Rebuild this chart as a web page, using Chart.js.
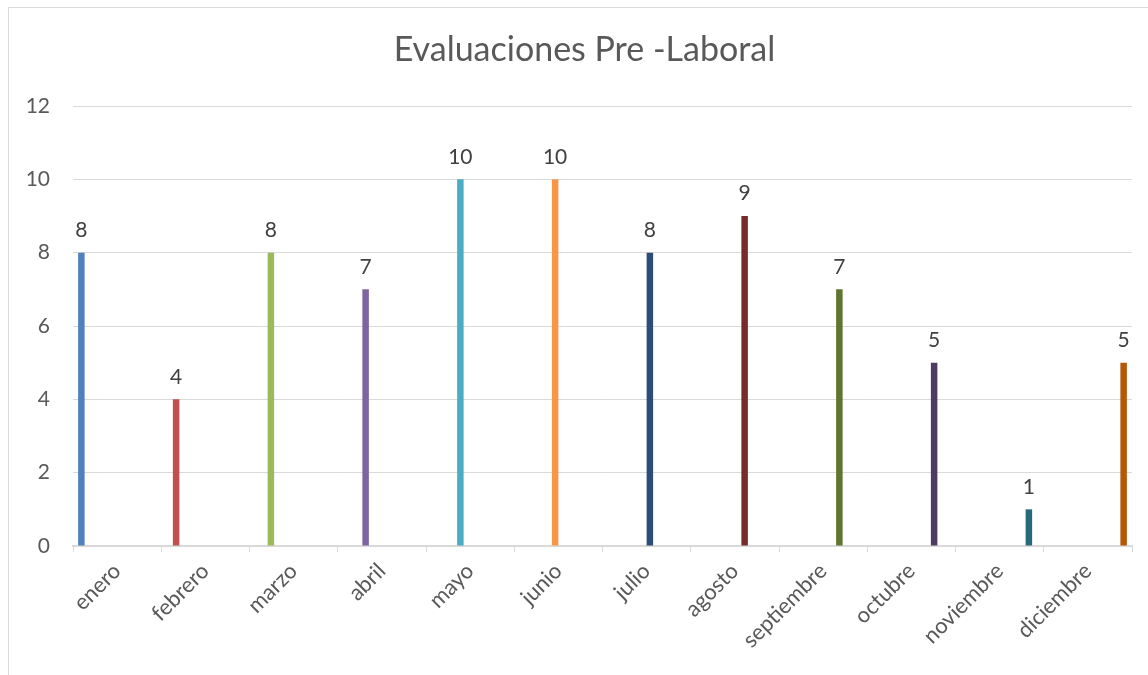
<!DOCTYPE html>
<html>
<head>
<meta charset="utf-8">
<script src="https://cdn.jsdelivr.net/npm/chart.js@4"></script>
<style>
  body { margin: 0; background: #fff; }
  #wrap { position: relative; width: 1148px; height: 675px; overflow: hidden; }
  #frame { position: absolute; left: 8px; top: 7px; width: 1200px; height: 700px; border: 1px solid #D9D9D9; }
  canvas { position: absolute; left: 0; top: 0; }
</style>
</head>
<body>
<div id="wrap">
  <div id="frame"></div>
  <canvas id="myChart" width="1148" height="675"></canvas>
</div>
<script>
// Data
var months = ["enero", "febrero", "marzo", "abril", "mayo", "junio", "julio", "agosto", "septiembre", "octubre", "noviembre", "diciembre"];
var values = [8, 4, 8, 7, 10, 10, 8, 9, 7, 5, 1, 5];
var colors = ["#4F81BD", "#C0504D", "#9BBB59", "#8064A2", "#4BACC6", "#F79646",
              "#2C4D75", "#772C2A", "#5F7530", "#4D3B62", "#276A7C", "#B65708"];
var yTicks = [0, 2, 4, 6, 8, 10, 12];
var titleText = "Evaluaciones Pre -Laboral";

var fontFamily = "Lato, 'Open Sans', sans-serif";

// one series per month, each only filled in its own month (Excel-style clustered bars)
var datasets = months.map(function (m, i) {
  return {
    label: m,
    data: months.map(function (_, j) { return j === i ? values[i] : null; }),
    backgroundColor: colors[i],
    borderWidth: 0,
    categoryPercentage: 0.884,
    barPercentage: 1.0
  };
});

// value labels above each bar
var valueLabels = {
  id: "valueLabels",
  afterDatasetsDraw: function (chart) {
    var ctx = chart.ctx;
    ctx.save();
    ctx.font = "21px " + fontFamily;
    ctx.fillStyle = "#404040";
    ctx.textAlign = "center";
    ctx.textBaseline = "bottom";
    chart.data.datasets.forEach(function (ds, i) {
      var meta = chart.getDatasetMeta(i);
      meta.data.forEach(function (bar, j) {
        if (ds.data[j] === null) return;
        ctx.fillText(ds.data[j], bar.x, bar.y - 12);
      });
    });
    ctx.restore();
  }
};

// title centred on the whole chart frame (Excel style), not the plot area
var chartTitle = {
  id: "chartTitle",
  afterDraw: function (chart) {
    var ctx = chart.ctx;
    ctx.save();
    ctx.font = "34px " + fontFamily;
    ctx.fillStyle = "#595959";
    ctx.textAlign = "center";
    ctx.textBaseline = "middle";
    ctx.fillText(titleText, (chart.width + 21) / 2, 50);
    ctx.restore();
  }
};

var ctx = document.getElementById("myChart").getContext("2d");
var myChart = new Chart(ctx, {
  type: "bar",
  data: { labels: months, datasets: datasets },
  plugins: [valueLabels, chartTitle],
  options: {
    responsive: false,
    animation: false,
    layout: { padding: { left: 0, right: 16, top: 106, bottom: 0 } },
    plugins: {
      legend: { display: false },
      tooltip: { enabled: false },
      title: { display: false }
    },
    scales: {
      x: {
        grid: { display: true, drawOnChartArea: false, drawTicks: true, tickLength: 6, color: "#D9D9D9", lineWidth: 1 },
        border: { display: true, color: "#D9D9D9", width: 2 },
        ticks: {
          color: "#595959",
          font: { family: fontFamily, size: 22 },
          minRotation: 45,
          maxRotation: 45,
          padding: 6
        },
        afterFit: function (s) { s.height = 129; }
      },
      y: {
        min: 0,
        max: 12,
        afterBuildTicks: function (s) { s.ticks = yTicks.map(function (v) { return { value: v }; }); },
        grid: { color: "#D9D9D9", lineWidth: 1, drawTicks: false },
        border: { display: false },
        ticks: {
          color: "#595959",
          font: { family: fontFamily, size: 21 },
          padding: 23
        },
        afterFit: function (s) { s.width = 73; }
      }
    }
  }
});
</script>
</body>
</html>
